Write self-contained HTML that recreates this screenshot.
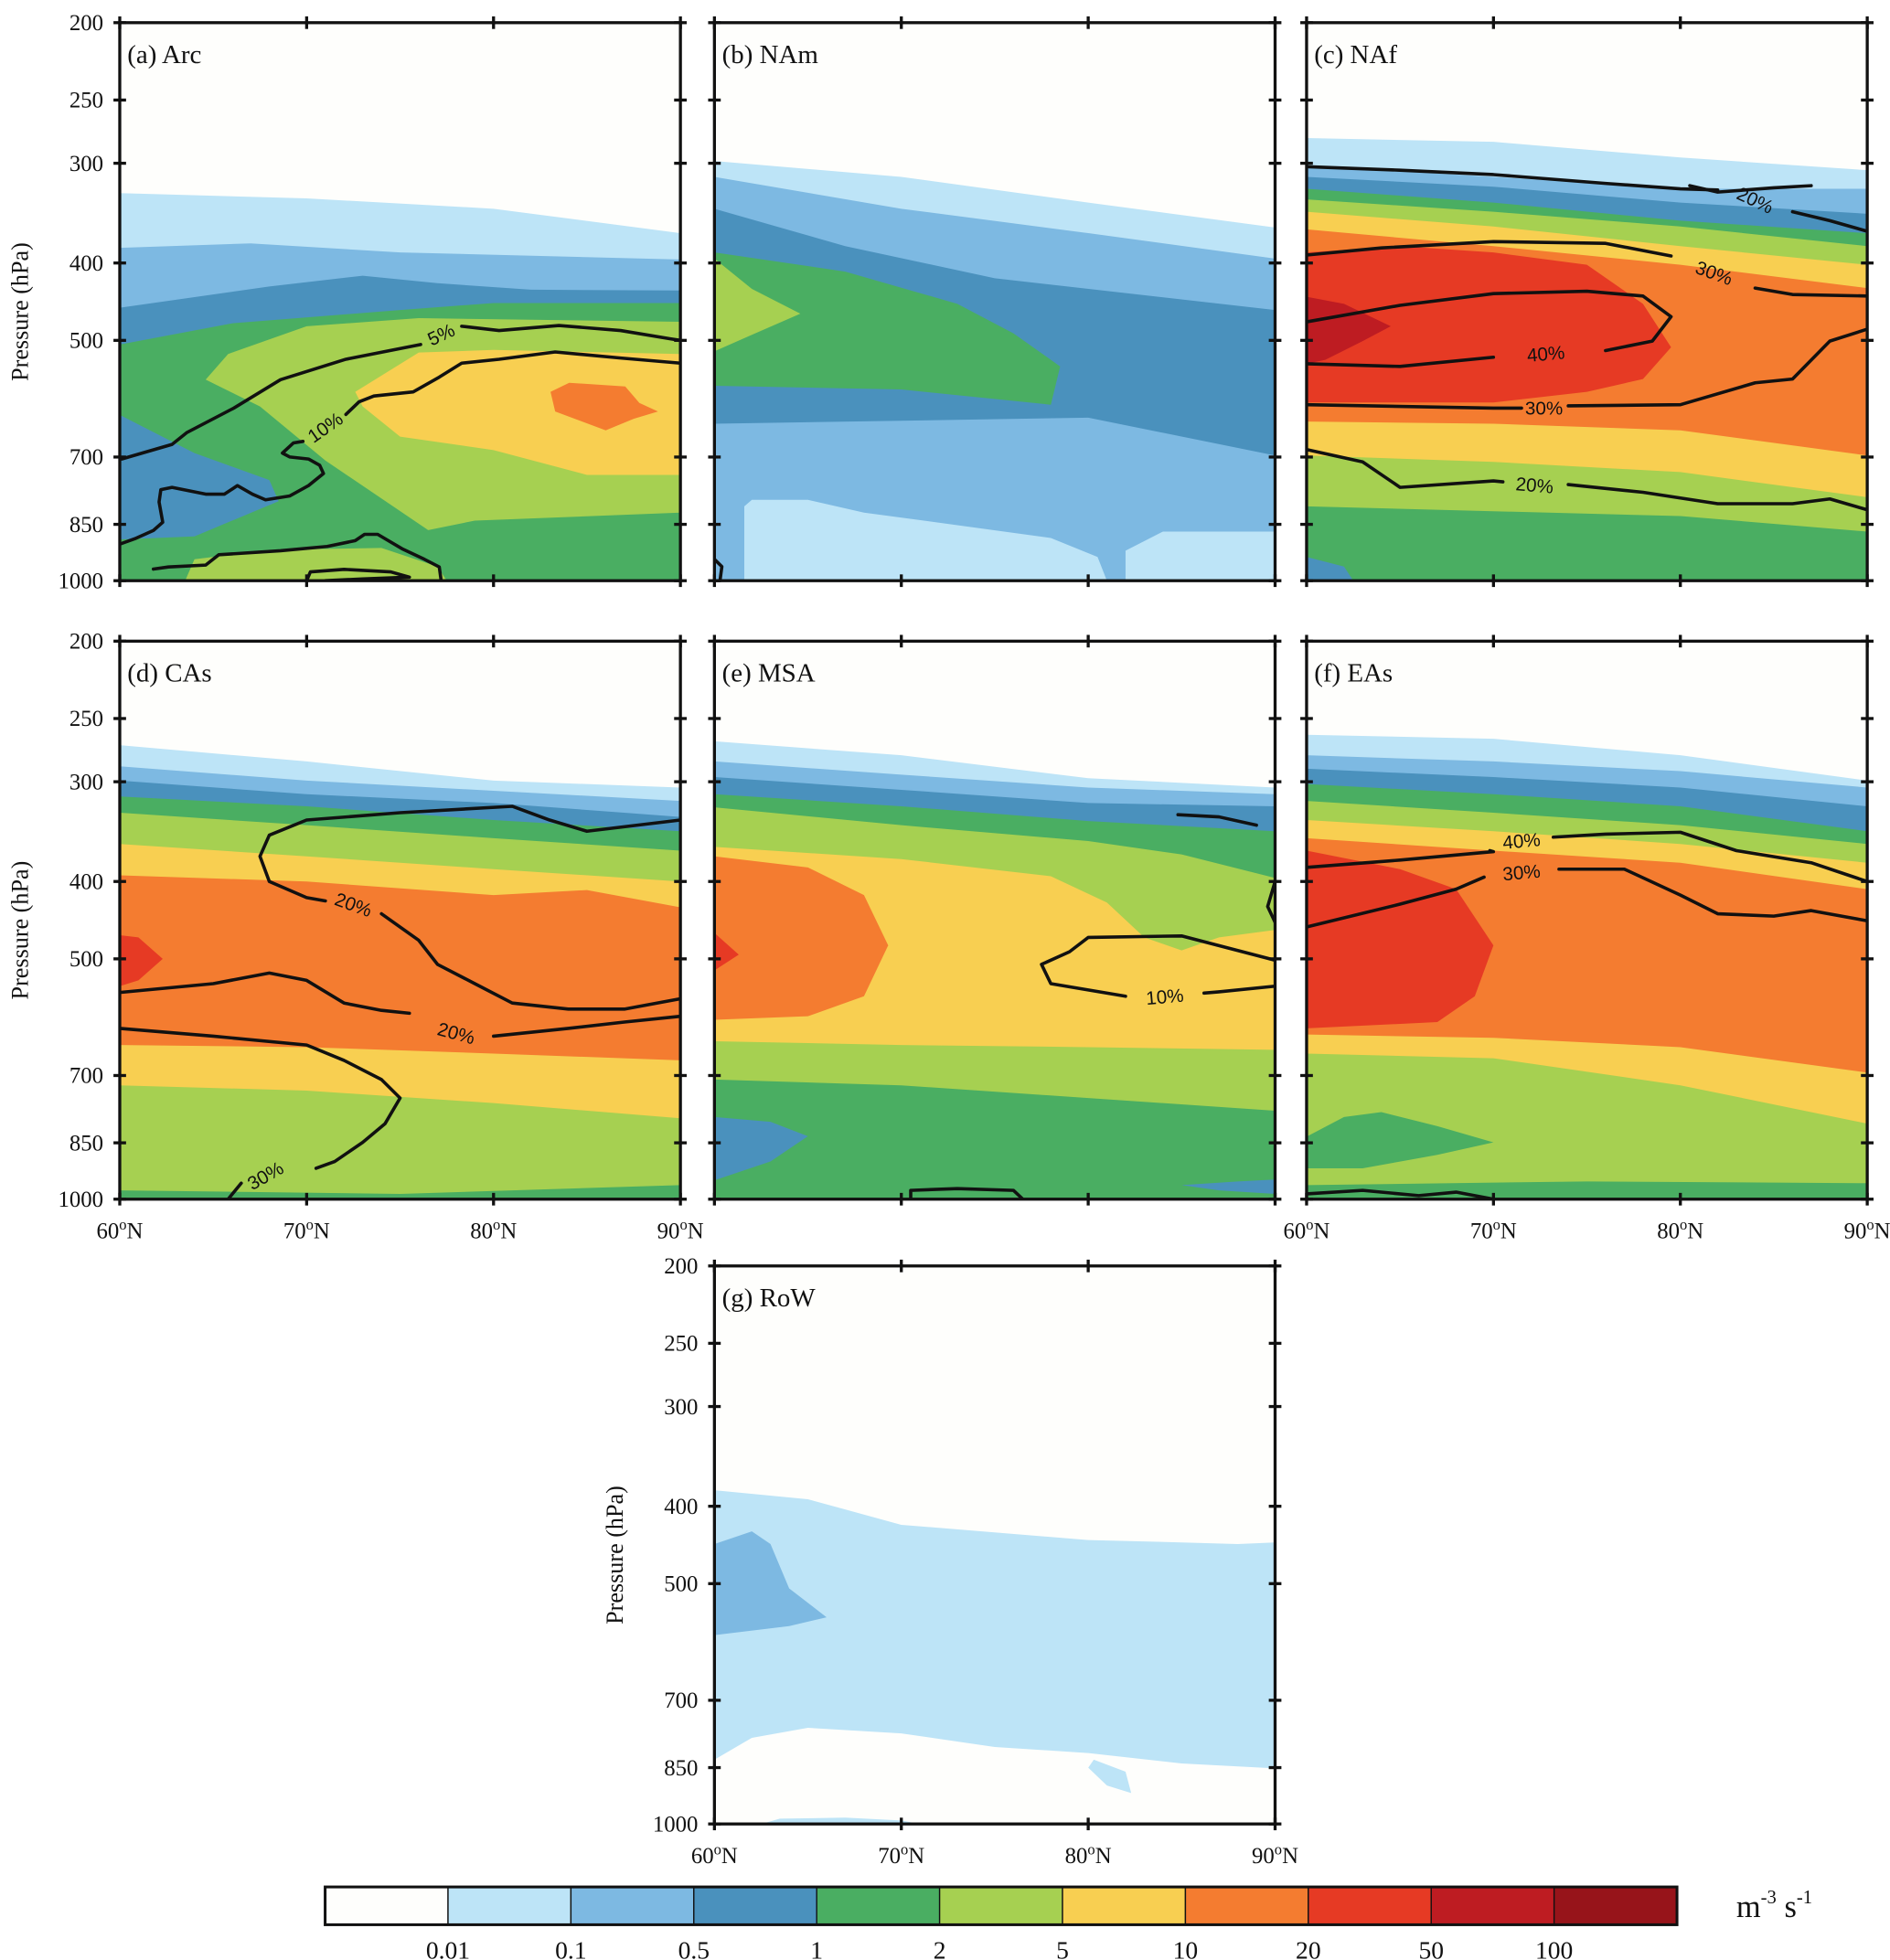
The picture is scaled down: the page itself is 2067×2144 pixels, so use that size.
<!DOCTYPE html>
<html><head><meta charset="utf-8"><style>
html,body{margin:0;padding:0;background:#fff;}
svg{display:block;}
text{font-family:"Liberation Serif",serif;fill:#111;}
.cl{font-family:"Liberation Sans",sans-serif;}
</style></head><body>
<svg id="chart" width="2067" height="2144" viewBox="0 0 1500 1556" xmlns="http://www.w3.org/2000/svg"></svg>
<script>
// ---- data ----
const levelColors=['#fefefc','#bde4f7','#7db9e2','#4a91bd','#4aae62','#a6d051','#f8cf51','#f47c30','#e63a24','#be1c22','#97141a'];
const levelLabels=['0.01','0.1','0.5','1','2','5','10','20','50','100'];
const pressureTicks=[200,250,300,400,500,700,850,1000];
const latTicks=[60,70,80,90];
const latTickLabels=['60','70','80','90'];

const regionsA=[
 {lvl:1,top:[[60,327],[70,332],[80,342],[90,367]]},
 {lvl:2,top:[[60,383],[67,378],[75,388],[90,396]]},
 {lvl:3,top:[[60,455],[68,428],[73,415],[77,424],[82,432],[90,433]]},
 {lvl:4,poly:[[60,506],[66,476],[75,458],[80,449],[90,449],[90,1000],[60,1000],[60,888],[64,880],[68.5,795],[68,748],[64,692],[60,620]]},
 {lvl:5,poly:[[64.6,560],[65.8,520],[70,480],[76,469],[90,474],[90,822],[79,841],[76.5,864],[71,707],[67.5,605]]},
 {lvl:5,poly:[[63.5,1000],[64,940],[68,915],[74,910],[77,960],[77.5,1000]]},
 {lvl:6,poly:[[72.6,580],[76,518],[80,514],[90,520],[90,737],[85,737],[80,686],[75,660],[73,605]]},
 {lvl:7,poly:[[83.05,580],[84.05,565],[87.05,571],[87.8,599],[88.8,614],[87.5,627],[86,648],[83.3,614]]}
];
const contoursA=[
 {segs:[[[60.1,704],[62.8,675],[63.6,652],[66.1,608],[68.6,560],[72.1,528],[76.1,506]],[[78.3,480],[80.3,486],[83.5,479],[86.8,486],[89.5,498],[90,500]]],label:{t:'5%',lat:77.2,p:492,r:-25}},
 {segs:[[[60,900],[60.8,886],[61.8,865],[62.3,845],[62.1,797],[62.2,769],[62.8,764],[64.6,779],[65.6,779],[66.3,760],[67.1,779],[67.8,792],[69.1,783],[70.1,760],[70.9,734],[70.7,717],[70.1,704],[69.1,700],[68.7,692],[69.3,672],[69.8,669]],[[72.1,619],[72.8,597],[73.6,587],[75.7,580],[77.1,556],[78.3,534],[80.3,528],[83.3,517],[86.8,526],[90,534]]],label:{t:'10%',lat:71,p:643,r:-35}},
 {segs:[[[61.8,967],[62.6,961],[64.6,956],[65.3,928],[68.6,917],[71.1,906],[72.6,891],[73.1,875],[73.8,875],[75.1,912],[76.3,940],[77.1,961],[77.2,1000]],[[70,1000],[70.2,975],[72,968],[74.5,975],[75.5,990],[73,995],[71,1000]]]}
];
const regionsB=[
 {lvl:1,top:[[60,298],[70,312],[80,336],[90,361]]},
 {lvl:2,top:[[60,312],[70,342],[80,367],[90,395]]},
 {lvl:3,top:[[60,342],[67,381],[75,418],[90,458]],bot:[[60,636],[80,625],[90,697]]},
 {lvl:4,poly:[[60,388],[67,410],[73,450],[76,490],[78.5,539],[78,602],[70,576],[60,570]]},
 {lvl:5,poly:[[60,395],[62,431],[64.6,463],[62,492],[60,516]]},
 {lvl:1,poly:[[61.6,1000],[61.6,807],[62,792],[65,792],[68,822],[73,852],[78,884],[80.5,934],[81,1000]]},
 {lvl:1,poly:[[82,1000],[82,917],[84,868],[90,868],[90,1000]]}
];
const contoursB=[{segs:[[[60,940],[60.4,960],[60.3,1000]]]}];
const regionsC=[
 {lvl:1,top:[[60,279],[70,282],[80,295],[90,306]]},
 {lvl:2,top:[[60,302],[70,312],[80,323],[90,323]]},
 {lvl:3,top:[[60,312],[70,321],[80,336],[90,347]]},
 {lvl:4,top:[[60,323],[70,336],[80,354],[90,367]]},
 {lvl:5,top:[[60,333],[70,345],[80,360],[90,381]],bot:[[60,807],[80,830],[90,868]]},
 {lvl:6,top:[[60,345],[70,360],[80,381],[90,402]],bot:[[60,697],[70,710],[80,731],[90,786]]},
 {lvl:7,top:[[60,363],[70,381],[80,402],[90,430]],bot:[[60,632],[70,636],[80,648],[90,697]]},
 {lvl:8,poly:[[60,388],[65,381],[70,388],[75,402],[78,450],[79.5,510],[78,559],[75,580],[70,598],[60,598]]},
 {lvl:9,poly:[[60,441],[62,450],[64.5,480],[63,501],[61,529],[60,535]]},
 {lvl:3,poly:[[60,934],[62,960],[62.5,1000],[60,1000]]}
];
const contoursC=[
 {segs:[[[60,303],[65,306],[70,310],[76,318],[80,323],[82,324]],[[86,345],[88,354],[90,365]]],label:{t:'20%',lat:84,p:334,r:25}},
 {segs:[[[80.5,320],[82,326],[85,322],[87,320]]]},
 {segs:[[[60,391],[64,383],[70,376],[76,378],[79.5,392]],[[84,430],[86,438],[90,440]]],label:{t:'30%',lat:81.8,p:412,r:20}},
 {segs:[[[60,474],[65,452],[70,437],[75,434],[78,440],[79.5,467],[78.5,501],[76,515]],[[70,525],[65,539],[60,535]]],label:{t:'40%',lat:72.8,p:520,r:-5}},
 {segs:[[[60,602],[70,608],[71.5,608]],[[74,604],[80,602],[84,565],[86,559],[88,501],[90,484]]],label:{t:'30%',lat:72.7,p:608,r:0}},
 {segs:[[[60,685],[63,710],[65,764],[70,750],[70.5,752]],[[74,758],[78,775],[82,801],[86,801],[88,790],[90,815]]],label:{t:'20%',lat:72.2,p:760,r:5}}
];
const regionsD=[
 {lvl:1,top:[[60,270],[70,283],[80,299],[90,305]]},
 {lvl:2,top:[[60,287],[70,299],[80,308],[90,317]]},
 {lvl:3,top:[[60,299],[70,311],[80,319],[90,332]]},
 {lvl:4,top:[[60,313],[70,322],[80,335],[90,346]]},
 {lvl:5,top:[[60,328],[70,340],[80,353],[90,366]],bot:[[60,975],[75,985],[90,960]]},
 {lvl:6,top:[[60,359],[70,372],[80,386],[90,400]],bot:[[60,720],[70,731],[80,758],[90,792]]},
 {lvl:7,top:[[60,393],[70,400],[80,416],[85,410],[90,431]],bot:[[60,641],[70,645],[80,657],[90,670]]},
 {lvl:8,poly:[[60,467],[61,470],[62.3,500],[61,532],[60,541]]}
];
const contoursD=[
 {segs:[[[90,335],[85,346],[83,335],[81,322],[75,328],[70,335],[68,350],[67.5,372],[68,400],[70,419],[71,423]],[[74,439],[76,474],[77,508],[79,537],[81,568],[84,578],[87,578],[90,561]]],label:{t:'20%',lat:72.5,p:428,r:20}},
 {segs:[[[60,551],[65,537],[68,521],[70,532],[72,568],[74,580],[75.5,585]],[[80,625],[84,611],[87,600],[90,590]]],label:{t:'20%',lat:78,p:620,r:15}},
 {segs:[[[60,611],[65,625],[70,641],[72,670],[74,708],[75,747],[74.2,804],[73,849],[71.5,897],[70.5,915]],[[66.5,955],[65.8,1000]]],label:{t:'30%',lat:67.8,p:935,r:-30}}
];
const regionsE=[
 {lvl:1,top:[[60,267],[70,278],[80,297],[90,305]]},
 {lvl:2,top:[[60,283],[70,294],[80,305],[90,311]]},
 {lvl:3,top:[[60,296],[70,307],[80,319],[90,322]]},
 {lvl:4,top:[[60,311],[70,322],[80,336],[90,346]]},
 {lvl:5,top:[[60,323],[70,340],[80,356],[85,370],[90,396]],bot:[[60,708],[70,720],[80,747],[90,775]]},
 {lvl:6,top:[[60,362],[70,375],[78,394],[81,425],[83,470],[85,488],[87,470],[90,460]],bot:[[60,634],[70,641],[80,645],[90,650]]},
 {lvl:7,poly:[[60,372],[65,384],[68,416],[69.3,481],[68,557],[65,590],[60,596]]},
 {lvl:8,poly:[[60,464],[61.3,494],[60,517]]},
 {lvl:3,poly:[[60,789],[63,800],[65,834],[63,897],[60,947]]},
 {lvl:3,poly:[[85,960],[88,950],[90,945],[90,985],[87,975]]}
];
const contoursE=[
 {segs:[[[90,502],[85,468],[80,470],[79,490],[77.5,508],[78,537],[82,557]],[[86.2,552],[87,550],[90,541]]],label:{t:'10%',lat:84.1,p:558,r:-5}},
 {segs:[[[84.8,330],[87,332],[89,340]]]},
 {segs:[[[70.5,1000],[70.5,975],[73,970],[76,975],[76.5,1000]]]},
 {segs:[[[90,400],[89.6,430],[90,450]]]}
];
const regionsF=[
 {lvl:1,top:[[60,262],[70,265],[80,278],[90,299]]},
 {lvl:2,top:[[60,278],[70,283],[80,291],[90,305]]},
 {lvl:3,top:[[60,289],[70,296],[80,305],[90,322]]},
 {lvl:4,top:[[60,302],[70,311],[80,322],[90,346]]},
 {lvl:5,top:[[60,317],[70,328],[80,340],[90,359]]},
 {lvl:6,top:[[60,335],[70,346],[80,359],[90,379]],bot:[[60,657],[70,666],[80,720],[90,804]]},
 {lvl:7,top:[[60,353],[70,366],[80,379],[90,409]],bot:[[60,622],[70,628],[80,645],[90,694]]},
 {lvl:8,poly:[[60,366],[65,386],[68,409],[70,481],[69,557],[67,600],[60,611]]},
 {lvl:4,poly:[[60,835],[62,789],[64,778],[67,810],[70,849],[67,880],[63,915],[60,915]]},
 {lvl:4,poly:[[60,960],[75,950],[90,955],[90,1000],[60,1000]]}
];
const contoursF=[
 {segs:[[[60,384],[65,376],[70,367],[69.8,366]],[[73.2,352],[76,349],[80,347],[83,366],[87,379],[90,400]]],label:{t:'40%',lat:71.5,p:356,r:-5}},
 {segs:[[[60,456],[65,427],[68,409],[69.5,395]],[[73.5,386],[77,386],[80,416],[82,439],[85,442],[87,435],[90,448]]],label:{t:'30%',lat:71.5,p:390,r:-5}},
 {segs:[[[60,985],[63,975],[66,990],[68,980],[70,1000]]]}
];
const regionsG=[
 {lvl:1,top:[[60,382],[65,392],[70,422],[80,441],[85,444],[88,446],[90,444]],bot:[[60,831],[62,780],[65,758],[70,770],[75,801],[80,815],[85,840],[90,852]]},
 {lvl:2,poly:[[60,446],[62,430],[63,446],[64,507],[66,551],[64,565],[60,580]]},
 {lvl:1,poly:[[80.3,831],[82,860],[82.3,915],[81,895],[80,850]]},
 {lvl:1,poly:[[62.5,1000],[63.5,985],[67,982],[70,990],[71,1000]]}
];
const contoursG=[];

const panels=[
 {id:'a',title:'(a) Arc',x:95,y:18,reg:regionsA,con:contoursA,yl:true,xl:false},
 {id:'b',title:'(b) NAm',x:567,y:18,reg:regionsB,con:contoursB,yl:false,xl:false},
 {id:'c',title:'(c) NAf',x:1037,y:18,reg:regionsC,con:contoursC,yl:false,xl:false},
 {id:'d',title:'(d) CAs',x:95,y:509,reg:regionsD,con:contoursD,yl:true,xl:true},
 {id:'e',title:'(e) MSA',x:567,y:509,reg:regionsE,con:contoursE,yl:false,xl:false},
 {id:'f',title:'(f) EAs',x:1037,y:509,reg:regionsF,con:contoursF,yl:false,xl:true},
 {id:'g',title:'(g) RoW',x:567,y:1005,reg:regionsG,con:contoursG,yl:true,xl:true}
];
const PW=445, PH=443;
// ---- drawing ----
const NS='http://www.w3.org/2000/svg';
const svg=document.getElementById('chart');
function mk(tag,attrs,parent){const e=document.createElementNS(NS,tag);for(const k in attrs)e.setAttribute(k,attrs[k]);(parent||svg).appendChild(e);return e;}
function X(pn,lat){return pn.x+(lat-60)/30*PW;}
function Y(pn,p){return pn.y+Math.log(p/200)/Math.log(5)*PH;}
function pts(pn,arr){return arr.map(q=>X(pn,q[0]).toFixed(1)+','+Y(pn,q[1]).toFixed(1)).join(' ');}

const defs=mk('defs',{});
panels.forEach(pn=>{
  const cp=mk('clipPath',{id:'clip-'+pn.id},defs);
  mk('rect',{x:pn.x,y:pn.y,width:PW,height:PH},cp);
  const g=mk('g',{'clip-path':'url(#clip-'+pn.id+')'});
  
  
  const bg=mk('rect',{x:pn.x,y:pn.y,width:PW,height:PH,fill:levelColors[0]},g);
  
  
  pn.reg.forEach(r=>{
    let poly;
    if(r.poly) poly=r.poly;
    else{
      const bot=r.bot?r.bot.slice().reverse():[[r.top[r.top.length-1][0],1000],[r.top[0][0],1000]];
      poly=r.top.concat(bot);
    }
    const e=mk('polygon',{points:pts(pn,poly),fill:levelColors[r.lvl]},g);
    
    
  });
  pn.con.forEach(c=>{
    c.segs.forEach(s=>{
      const e=mk('polyline',{points:pts(pn,s),fill:'none',stroke:'#111','stroke-width':2.6,'stroke-linejoin':'round','stroke-linecap':'round'},g);
      
      
    });
    if(c.label){
      const lx=X(pn,c.label.lat), ly=Y(pn,c.label.p);
      const t=mk('text',{x:lx,y:ly+5,'font-size':15,'text-anchor':'middle',class:'cl',transform:'rotate('+c.label.r+' '+lx+' '+ly+')'},g);
      t.textContent=c.label.t;
      
      
    }
  });
  // frame
  const fr=mk('rect',{x:pn.x,y:pn.y,width:PW,height:PH,fill:'none',stroke:'#111','stroke-width':2.4});
  
  
  // title
  const tt=mk('text',{x:pn.x+6,y:pn.y+32,'font-size':21});
  tt.textContent=pn.title;
  
  
  // y ticks
  pressureTicks.forEach(p=>{
    const y=Y(pn,p);
    [pn.x,pn.x+PW].forEach(x=>{mk('line',{x1:x-5,x2:x+5,y1:y,y2:y,stroke:'#111','stroke-width':2.4});});
    if(pn.yl){
      const t=mk('text',{x:pn.x-13,y:y+6,'font-size':18,'text-anchor':'end'});
      t.textContent=p;
      
      
    }
  });
  if(pn.yl){
    const cx=pn.x-73, cy=pn.y+PH/2+8;
    const t=mk('text',{x:cx,y:cy,'font-size':19,'text-anchor':'middle',transform:'rotate(-90 '+cx+' '+cy+')'});
    t.textContent='Pressure (hPa)';
    
    
  }
  latTicks.forEach((lat,i)=>{
    const x=X(pn,lat);
    [pn.y,pn.y+PH].forEach(y=>{mk('line',{x1:x,x2:x,y1:y-5,y2:y+5,stroke:'#111','stroke-width':2.4});});
    if(pn.xl){
      const t=mk('text',{x:x,y:pn.y+PH+31,'font-size':18,'text-anchor':'middle'});
      t.innerHTML=latTickLabels[i]+'<tspan dy="-7" font-size="12">o</tspan><tspan dy="7">N</tspan>';
      
      
    }
  });
});
// colorbar
const cb=mk('g',{});


const cbx=258, cbw=1073, cby=1498, cbh=30, bw=cbw/levelColors.length;
levelColors.forEach((c,i)=>{
  const r=mk('rect',{x:cbx+i*bw,y:cby,width:bw,height:cbh,fill:c,stroke:'#111','stroke-width':1},cb);
  
  
});
mk('rect',{x:cbx,y:cby,width:cbw,height:cbh,fill:'none',stroke:'#111','stroke-width':2.2},cb);
levelLabels.forEach((l,i)=>{
  const t=mk('text',{x:cbx+(i+1)*bw,y:cby+cbh+27,'font-size':20,'text-anchor':'middle'},cb);
  t.textContent=l;
  
  
});
const u=mk('text',{x:1378,y:1522,'font-size':25},cb);
u.innerHTML='m<tspan dy="-11" font-size="15">-3</tspan><tspan dy="11"> s</tspan><tspan dy="-11" font-size="15">-1</tspan>';


</script>
</body></html>
